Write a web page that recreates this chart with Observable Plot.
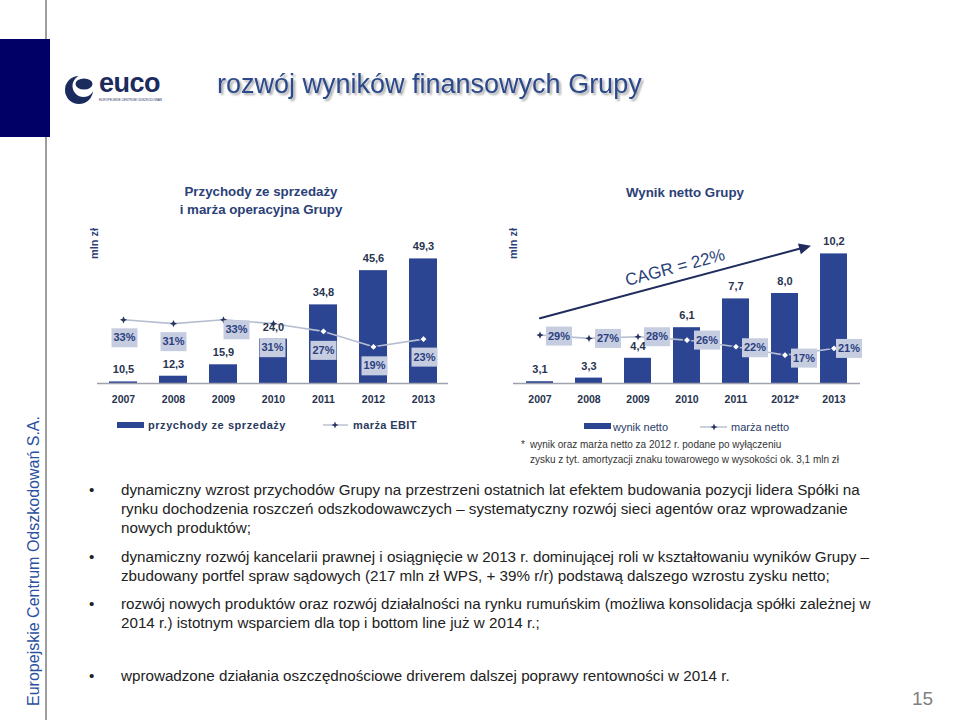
<!DOCTYPE html>
<html><head><meta charset="utf-8">
<script src="https://cdn.jsdelivr.net/npm/d3@7"></script>
<script src="https://cdn.jsdelivr.net/npm/@observablehq/plot@0.6"></script>
<style>
body{margin:0;background:#fff;}
#slide{position:relative;width:960px;height:720px;overflow:hidden;font-family:"Liberation Sans",Arial,sans-serif;}
.chart{position:absolute;}
</style></head><body>
<div id="slide">
<svg id="bg" width="960" height="720" style="position:absolute;left:0;top:0" font-family="Liberation Sans, Arial, sans-serif">
  <defs>
    <filter id="sh" x="-5%" y="-30%" width="110%" height="160%">
      <feDropShadow dx="2" dy="2" stdDeviation="1" flood-color="#000" flood-opacity="0.35"/>
    </filter>
  </defs>
  <line x1="46" y1="0" x2="46" y2="720" stroke="#7d7d7d" stroke-width="1.5"/>
  <rect x="0" y="39" width="50" height="98" fill="#000066"/>
  <!-- logo -->
  <circle cx="79" cy="90" r="14" fill="#1b2b5e"/>
  <circle cx="83.5" cy="86" r="11" fill="#fff"/>
  <ellipse cx="84" cy="84" rx="8.5" ry="5.5" fill="#1b2b5e"/>
  <text x="99" y="92" font-size="27" font-weight="bold" fill="#1b2b5e" letter-spacing="-0.5">euco</text>
  <text x="99" y="100.5" font-size="3.6" fill="#1b2b5e" textLength="63" lengthAdjust="spacingAndGlyphs">EUROPEJSKIE CENTRUM ODSZKODOWAŃ</text>
  <!-- title -->
  <text x="217" y="93" font-size="27" fill="#2d4a8a" filter="url(#sh)">rozwój wyników finansowych Grupy</text>
  <!-- chart titles -->
  <g font-size="13.3" font-weight="bold" fill="#2b4177" text-anchor="middle">
    <text x="261" y="196">Przychody ze sprzedaży</text>
    <text x="261" y="214">i marża operacyjna Grupy</text>
    <text x="685" y="197">Wynik netto Grupy</text>
  </g>
  <g font-size="11" font-weight="bold" fill="#2b4177" text-anchor="middle">
    <text transform="translate(97.5,243.5) rotate(-90)">mln zł</text>
    <text transform="translate(517,243.5) rotate(-90)">mln zł</text>
  </g>
  <!-- legends -->
  <rect x="117" y="422" width="27" height="6" fill="#2c4592"/>
  <text x="148" y="429" font-size="11" font-weight="bold" fill="#2a3a5e" letter-spacing="0.55">przychody ze sprzedaży</text>
  <line x1="323" y1="425" x2="348" y2="425" stroke="#9aa3b8" stroke-width="1"/>
  <path d="M335,421.5L336,424L338.5,425L336,426L335,428.5L334,426L331.5,425L334,424Z" fill="#27335e"/>
  <text x="353" y="429" font-size="11" font-weight="bold" fill="#2a3a5e" letter-spacing="0.4">marża EBIT</text>
  <rect x="584" y="423" width="27" height="6" fill="#2c4592"/>
  <text x="613" y="431" font-size="11" fill="#2a3a6a">wynik netto</text>
  <line x1="700" y1="427" x2="727" y2="427" stroke="#9aa3b8" stroke-width="1"/>
  <path d="M714,423.5L715,426L717.5,427L715,428L714,430.5L713,428L710.5,427L713,426Z" fill="#27335e"/>
  <text x="731" y="431" font-size="11" fill="#2a3a6a">marża netto</text>
  <!-- footnote -->
  <g font-size="10" fill="#333">
    <text x="521" y="448">*</text>
    <text x="530" y="448">wynik oraz marża netto za 2012 r. podane po wyłączeniu</text>
    <text x="530" y="463">zysku z tyt. amortyzacji znaku towarowego w wysokości ok. 3,1 mln zł</text>
  </g>
  <!-- bullets -->
  <g font-size="15.2" fill="#222">
    <text x="89" y="495">•</text>
    <text x="121" y="495">dynamiczny wzrost przychodów Grupy na przestrzeni ostatnich lat efektem budowania pozycji lidera Spółki na</text>
    <text x="121" y="514">rynku dochodzenia roszczeń odszkodowawczych – systematyczny rozwój sieci agentów oraz wprowadzanie</text>
    <text x="121" y="533">nowych produktów;</text>
    <text x="89" y="562">•</text>
    <text x="121" y="562">dynamiczny rozwój kancelarii prawnej i osiągnięcie w 2013 r. dominującej roli w kształtowaniu wyników Grupy –</text>
    <text x="121" y="581">zbudowany portfel spraw sądowych (217 mln zł WPS, + 39% r/r) podstawą dalszego wzrostu zysku netto;</text>
    <text x="89" y="609">•</text>
    <text x="121" y="609">rozwój nowych produktów oraz rozwój działalności na rynku rumuńskim (możliwa konsolidacja spółki zależnej w</text>
    <text x="121" y="628">2014 r.) istotnym wsparciem dla top i bottom line już w 2014 r.;</text>
    <text x="89" y="681">•</text>
    <text x="121" y="681">wprowadzone działania oszczędnościowe driverem dalszej poprawy rentowności w 2014 r.</text>
  </g>
  <text transform="translate(38.5,561) rotate(-90)" text-anchor="middle" font-size="16" fill="#2b50a0">Europejskie Centrum Odszkodowań S.A.</text>
  <text x="912" y="705" font-size="19" fill="#808080">15</text>
</svg>
<div id="left" class="chart" style="left:80px;top:220px"></div>
<div id="right" class="chart" style="left:500px;top:220px"></div>
</div>
<script>
// ---- data ----
const years = ["2007", "2008", "2009", "2010", "2011", "2012", "2013"];
const netYears = ["2007", "2008", "2009", "2010", "2011", "2012*", "2013"];
const revenue = [10.5, 12.3, 15.9, 24.0, 34.8, 45.6, 49.3];      // mln zł
const ebitMargin = [33, 31, 33, 31, 27, 19, 23];                 // %
const netProfit = [3.1, 3.3, 4.4, 6.1, 7.7, 8.0, 10.2];          // mln zł
const netMargin = [29, 27, 28, 26, 22, 17, 21];                  // %
const cagrLabel = "CAGR = 22%";

// ---- layout / style ----
const FONT = '"Liberation Sans", Arial, Helvetica, sans-serif';
const C = {bar: "#2c4592", box: "#c6cde1", boxText: "#2b3f80", label: "#28344f",
           line: "#b6bed2", star: "#27335e", axis: "#9ea3ae", arrow: "#1f2c5c", cagr: "#2a3f7a"};
const W = 380, H = 200, MT = 10, MB = 37, innerH = H - MT - MB;
const fmt = v => d3.format(".1f")(v).replace(".", ",");

const boxSym = {draw(ctx) { ctx.rect(-13, -9.5, 26, 19); }};
const starSym = {draw(ctx) {
  const r = 3.6, q = 1.1;
  ctx.moveTo(0, -r); ctx.lineTo(q, -q); ctx.lineTo(r, 0); ctx.lineTo(q, q);
  ctx.lineTo(0, r); ctx.lineTo(-q, q); ctx.lineTo(-r, 0); ctx.lineTo(-q, -q); ctx.closePath();
}};
const headSym = {draw(ctx) { ctx.moveTo(0, 0); ctx.lineTo(-12, -5.5); ctx.lineTo(-12, 5.5); ctx.closePath(); }};

function marginMarks(rows, yOf, offsets, hollowFrom) {
  const marks = [
    Plot.line(rows, {x: "year", y: yOf, stroke: C.line, strokeWidth: 1.6}),
    Plot.dot(rows.filter(d => d.i < hollowFrom), {x: "year", y: yOf, symbol: starSym, fill: C.star}),
    Plot.dot(rows.filter(d => d.i >= hollowFrom), {x: "year", y: yOf, symbol: "diamond2", r: 3.4, fill: "white", stroke: C.bar, strokeWidth: 1.2})
  ];
  rows.forEach((d, i) => {
    const [dx, dy] = offsets[i];
    marks.push(Plot.dot([d], {x: "year", y: yOf, symbol: boxSym, fill: C.box, dx, dy}));
    marks.push(Plot.text([d], {x: "year", y: yOf, text: r => r.margin + "%", dx, dy,
      fontSize: 11, fontWeight: "bold", fill: C.boxText}));
  });
  return marks;
}

// ---- left chart: revenue & EBIT margin ----
const revMin = 10, revPx = 3.17, ebitPx = 1.93;
const revRows = years.map((year, i) => ({year, i, value: revenue[i], margin: ebitMargin[i]}));
const ebitY = d => revMin + d.margin * ebitPx / revPx;
const ebitOffsets = [[1, 18], [0, 18], [13, 10], [-1, 24], [0, 19], [1, 19], [1, 18]];

document.getElementById("left").append(Plot.plot({
  width: W, height: H, marginLeft: 17, marginRight: 12, marginTop: MT, marginBottom: MB,
  style: {fontFamily: FONT, background: "transparent", overflow: "visible"},
  x: {domain: years, paddingInner: 0.44, paddingOuter: 0.22, axis: null},
  y: {domain: [revMin, revMin + innerH / revPx], axis: null},
  marks: [
    Plot.barY(revRows, {x: "year", y1: revMin, y2: "value", fill: C.bar}),
    Plot.ruleY([revMin], {stroke: C.axis, strokeWidth: 1.5}),
    Plot.axisX({label: null, tickSize: 0, tickPadding: 12, fontSize: 10.5, fontWeight: "bold", fill: C.label}),
    ...marginMarks(revRows, ebitY, ebitOffsets, 4),
    Plot.text(revRows, {x: "year", y: "value", text: d => fmt(d.value), dy: -12,
      fontSize: 11, fontWeight: "bold", fill: C.label})
  ]
}));

// ---- right chart: net profit & net margin ----
const netMin = 3, netPx = 18, nmPx = 1.67;
const netRows = netYears.map((year, i) => ({year, i, value: netProfit[i], margin: netMargin[i]}));
const netY = d => netMin + d.margin * nmPx / netPx;
const netOffsets = [[19, 1], [19, 0], [19, 0], [20, 0], [19, 1], [19, 3], [15, 0]];
const cagrArrow = [{x1: "2007", y1: 6.62, x2: "2013", y2: 11.0}];
const cagrHead = [{x: "2013", y: 10.65}];
const cagrText = [{x: "2010", y: 9.44, label: cagrLabel}];

document.getElementById("right").append(Plot.plot({
  width: W, height: H, marginLeft: 13, marginRight: 20, marginTop: MT, marginBottom: MB,
  style: {fontFamily: FONT, background: "transparent", overflow: "visible"},
  x: {domain: netYears, paddingInner: 0.45, paddingOuter: 0.24, axis: null},
  y: {domain: [netMin, netMin + innerH / netPx], axis: null},
  marks: [
    Plot.barY(netRows, {x: "year", y1: netMin, y2: "value", fill: C.bar}),
    Plot.ruleY([netMin], {stroke: C.axis, strokeWidth: 1.5}),
    Plot.axisX({label: null, tickSize: 0, tickPadding: 12, fontSize: 10.5, fontWeight: "bold", fill: C.label}),
    Plot.arrow(cagrArrow, {x1: "x1", y1: "y1", x2: "x2", y2: "y2", stroke: C.arrow, strokeWidth: 2,
      headLength: 0, insetEnd: 32}),
    Plot.dot(cagrHead, {x: "x", y: "y", symbol: headSym, rotate: -14.9, fill: C.arrow, dx: -23}),
    Plot.text(cagrText, {x: "x", y: "y", text: "label", rotate: -15, dx: -12, fontSize: 17, fill: C.cagr}),
    ...marginMarks(netRows, netY, netOffsets, 3),
    Plot.text(netRows, {x: "year", y: "value", text: d => fmt(d.value), dy: -12,
      fontSize: 11, fontWeight: "bold", fill: C.label})
  ]
}));
</script>
</body></html>
